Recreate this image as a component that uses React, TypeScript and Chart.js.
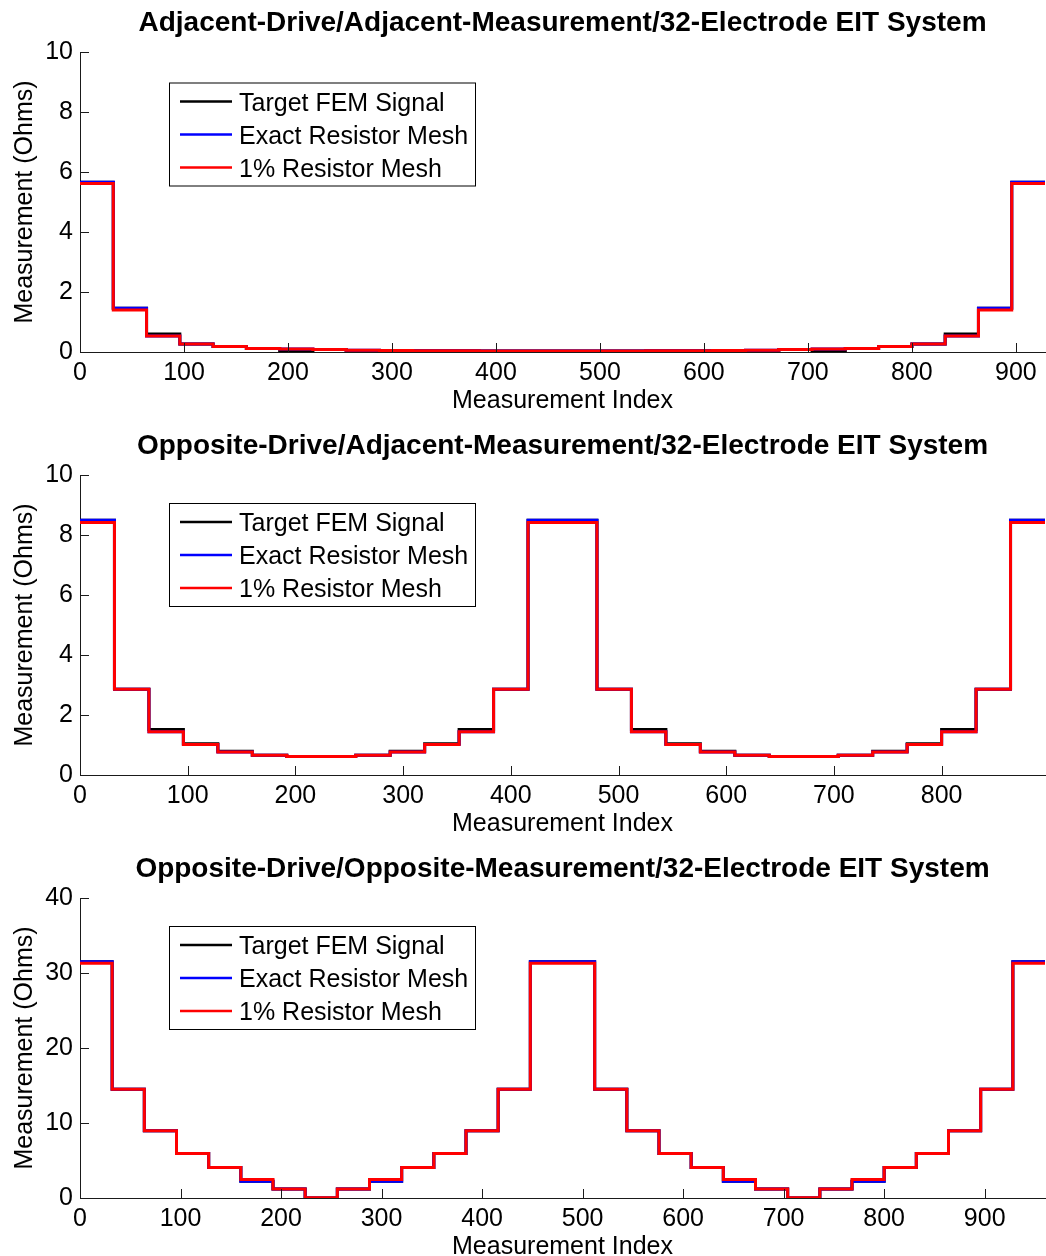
import React, { useEffect, useRef } from "react";
import { Chart, registerables } from "chart.js";

Chart.register(...registerables);

// ---------- data ----------
const GROUP_SIZE = 32; // measurements per drive pattern (one step of the staircase)

const LEGEND_LABELS = ["Target FEM Signal", "Exact Resistor Mesh", "1% Resistor Mesh"];
const X_LABEL = "Measurement Index";
const Y_LABEL = "Measurement (Ohms)";

// Panel 1: Adjacent drive / adjacent measurement (29 groups of 32)
const adjTitle = "Adjacent-Drive/Adjacent-Measurement/32-Electrode EIT System";
const adjTarget = [5.66, 1.46, 0.6, 0.27, 0.18, 0.12, 0.05, 0.08, 0.03, 0.05, 0.045, 0.04, 0.035, 0.035, 0.035, 0.035, 0.035, 0.04, 0.045, 0.05, 0.03, 0.08, 0.05, 0.12, 0.18, 0.27, 0.6, 1.46, 5.66];
const adjExact = [5.66, 1.46, 0.53, 0.27, 0.18, 0.12, 0.1, 0.08, 0.06, 0.05, 0.045, 0.04, 0.035, 0.035, 0.035, 0.035, 0.035, 0.04, 0.045, 0.05, 0.06, 0.08, 0.1, 0.12, 0.18, 0.27, 0.53, 1.46, 5.66];
const adjOnePct = [5.62, 1.4, 0.53, 0.27, 0.18, 0.12, 0.1, 0.08, 0.06, 0.05, 0.045, 0.04, 0.035, 0.035, 0.035, 0.035, 0.035, 0.04, 0.045, 0.05, 0.06, 0.08, 0.1, 0.12, 0.18, 0.27, 0.53, 1.4, 5.62];
const adjXTicks = [0, 100, 200, 300, 400, 500, 600, 700, 800, 900];
const adjYTicks = [0, 2, 4, 6, 8, 10];

// Panel 2: Opposite drive / adjacent measurement (28 groups of 32)
const oppAdjTitle = "Opposite-Drive/Adjacent-Measurement/32-Electrode EIT System";
const oppAdjTarget = [8.49, 2.86, 1.52, 1.04, 0.79, 0.66, 0.62, 0.62, 0.66, 0.79, 1.04, 1.52, 2.86, 8.49, 8.49, 2.86, 1.52, 1.04, 0.79, 0.66, 0.62, 0.62, 0.66, 0.79, 1.04, 1.52, 2.86, 8.49];
const oppAdjExact = [8.49, 2.86, 1.44, 1.02, 0.77, 0.66, 0.62, 0.62, 0.66, 0.77, 1.02, 1.44, 2.86, 8.49, 8.49, 2.86, 1.44, 1.02, 0.77, 0.66, 0.62, 0.62, 0.66, 0.77, 1.02, 1.44, 2.86, 8.49];
const oppAdjOnePct = [8.42, 2.86, 1.44, 1.02, 0.77, 0.66, 0.62, 0.62, 0.66, 0.77, 1.02, 1.44, 2.86, 8.42, 8.42, 2.86, 1.44, 1.02, 0.77, 0.66, 0.62, 0.62, 0.66, 0.77, 1.02, 1.44, 2.86, 8.42];
const oppAdjXTicks = [0, 100, 200, 300, 400, 500, 600, 700, 800];
const oppAdjYTicks = [0, 2, 4, 6, 8, 10];

// Panel 3: Opposite drive / opposite measurement (30 groups of 32)
const oppOppTitle = "Opposite-Drive/Opposite-Measurement/32-Electrode EIT System";
const oppOppTarget = [31.5, 14.5, 8.97, 5.95, 4.08, 2.24, 1.2, 0.0, 1.2, 2.24, 4.08, 5.95, 8.97, 14.5, 31.5, 31.5, 14.5, 8.97, 5.95, 4.08, 2.24, 1.2, 0.0, 1.2, 2.24, 4.08, 5.95, 8.97, 14.5, 31.5];
const oppOppExact = [31.5, 14.5, 8.97, 5.95, 4.08, 2.24, 1.2, 0.0, 1.2, 2.24, 4.08, 5.95, 8.97, 14.5, 31.5, 31.5, 14.5, 8.97, 5.95, 4.08, 2.24, 1.2, 0.0, 1.2, 2.24, 4.08, 5.95, 8.97, 14.5, 31.5];
const oppOppOnePct = [31.3, 14.5, 8.97, 5.95, 4.08, 2.48, 1.2, 0.05, 1.2, 2.48, 4.08, 5.95, 8.97, 14.5, 31.3, 31.3, 14.5, 8.97, 5.95, 4.08, 2.48, 1.2, 0.05, 1.2, 2.48, 4.08, 5.95, 8.97, 14.5, 31.3];
const oppOppXTicks = [0, 100, 200, 300, 400, 500, 600, 700, 800, 900];
const oppOppYTicks = [0, 10, 20, 30, 40];

// ---------- styling ----------
const FONT = "'Liberation Sans', Arial, Helvetica, sans-serif";
const AXIS_COLOR = "#1a1a1a";
const SERIES_COLORS = ["#000000", "#0000ff", "#ff0000"];
const AREA_TOP = 52;
const AREA_HEIGHT = 300;

function toSteps(levels: number[]) {
  const pts = levels.map((y, i) => ({ x: i * GROUP_SIZE, y }));
  pts.push({ x: levels.length * GROUP_SIZE, y: levels[levels.length - 1] });
  return pts;
}

type PanelProps = {
  top: number;
  height: number;
  title: string;
  yMax: number;
  xTicks: number[];
  yTicks: number[];
  series: number[][];
  legendTop: number;
};

function Panel(p: PanelProps) {
  const ref = useRef<HTMLCanvasElement | null>(null);

  useEffect(() => {
    const canvas = ref.current;
    if (!canvas) return;
    const xMax = p.series[0].length * GROUP_SIZE;

    const decor = {
      id: "matlabDecor",
      afterDraw(chart: any) {
        const ctx = chart.ctx as CanvasRenderingContext2D;
        const a = chart.chartArea;
        const xs = chart.scales.x;
        const ys = chart.scales.y;
        ctx.save();
        // inward tick marks
        ctx.strokeStyle = AXIS_COLOR;
        ctx.lineWidth = 1;
        ctx.beginPath();
        for (const v of p.xTicks) {
          const px = Math.round(xs.getPixelForValue(v)) + 0.5;
          ctx.moveTo(px, a.bottom);
          ctx.lineTo(px, a.bottom - 9);
        }
        for (const v of p.yTicks) {
          const py = Math.round(ys.getPixelForValue(v)) + 0.5;
          ctx.moveTo(a.left, py);
          ctx.lineTo(a.left + 9, py);
        }
        ctx.stroke();

        // title
        ctx.fillStyle = "#000";
        ctx.textAlign = "center";
        ctx.textBaseline = "alphabetic";
        ctx.font = `bold 28px ${FONT}`;
        ctx.fillText(p.title, (a.left + a.right) / 2, a.top - 21);

        // x label
        ctx.font = `25px ${FONT}`;
        ctx.fillText(X_LABEL, (a.left + a.right) / 2, a.bottom + 56);

        // y label
        ctx.save();
        ctx.translate(32, (a.top + a.bottom) / 2);
        ctx.rotate(-Math.PI / 2);
        ctx.fillText(Y_LABEL, 0, 0);
        ctx.restore();

        // legend
        const bx = 169.5;
        const by = p.legendTop + 0.5;
        const bw = 306;
        const bh = 103;
        ctx.fillStyle = "#fff";
        ctx.fillRect(bx, by, bw, bh);
        ctx.strokeStyle = "#000";
        ctx.lineWidth = 1;
        ctx.strokeRect(bx, by, bw, bh);
        const rows = [19, 52, 85];
        ctx.textAlign = "left";
        ctx.font = `25px ${FONT}`;
        LEGEND_LABELS.forEach((lab, i) => {
          const ry = p.legendTop + rows[i];
          ctx.strokeStyle = SERIES_COLORS[i];
          ctx.lineWidth = 2.5;
          ctx.beginPath();
          ctx.moveTo(180, ry);
          ctx.lineTo(232, ry);
          ctx.stroke();
          ctx.fillStyle = "#000";
          ctx.fillText(lab, 239, ry + 9);
        });
        ctx.restore();
      },
    };

    const mk = (i: number) => ({
      label: LEGEND_LABELS[i],
      data: toSteps(p.series[i]),
      borderColor: SERIES_COLORS[i],
      backgroundColor: SERIES_COLORS[i],
      borderWidth: 3,
      pointRadius: 0,
      pointHoverRadius: 0,
      stepped: true,
      fill: false,
      tension: 0,
      borderJoinStyle: "miter" as const,
      borderCapStyle: "butt" as const,
      order: 3 - i, // red drawn on top, black at the bottom
    });

    const tickFont = { family: FONT, size: 25 };

    const chart = new Chart(canvas, {
      type: "line",
      data: { datasets: [mk(0), mk(1), mk(2)] as any },
      options: {
        responsive: false,
        animation: false,
        devicePixelRatio: 1,
        events: [],
        layout: { padding: { top: AREA_TOP, left: 0, right: 1, bottom: 0 } },
        plugins: {
          legend: { display: false },
          title: { display: false },
          tooltip: { enabled: false },
        },
        scales: {
          x: {
            type: "linear",
            min: 0,
            max: xMax,
            grid: { display: false, drawTicks: false },
            border: { display: true, color: AXIS_COLOR, width: 1 },
            ticks: { font: tickFont, color: "#000", padding: 6, maxRotation: 0, autoSkip: false },
            afterBuildTicks: (s: any) => {
              s.ticks = p.xTicks.map((v) => ({ value: v }));
            },
            afterFit: (s: any) => {
              s.height = p.height - AREA_TOP - AREA_HEIGHT;
            },
          },
          y: {
            type: "linear",
            min: 0,
            max: p.yMax,
            grid: { display: false, drawTicks: false },
            border: { display: true, color: AXIS_COLOR, width: 1 },
            ticks: { font: tickFont, color: "#000", padding: 7 },
            afterBuildTicks: (s: any) => {
              s.ticks = p.yTicks.map((v) => ({ value: v }));
            },
            afterFit: (s: any) => {
              s.width = 80;
            },
          },
        },
      },
      plugins: [decor],
    });
    return () => chart.destroy();
  }, []);

  return (
    <canvas
      ref={ref}
      width={1046}
      height={p.height}
      style={{ position: "absolute", left: 0, top: p.top, width: 1046, height: p.height, display: "block" }}
    />
  );
}

export default function App() {
  return (
    <div style={{ position: "absolute", left: 0, top: 0, width: 1046, height: 1256, background: "#fff", overflow: "hidden" }}>
      <Panel
        top={0}
        height={423}
        title={adjTitle}
        yMax={10}
        xTicks={adjXTicks}
        yTicks={adjYTicks}
        series={[adjTarget, adjExact, adjOnePct]}
        legendTop={82.5}
      />
      <Panel
        top={423}
        height={423}
        title={oppAdjTitle}
        yMax={10}
        xTicks={oppAdjXTicks}
        yTicks={oppAdjYTicks}
        series={[oppAdjTarget, oppAdjExact, oppAdjOnePct]}
        legendTop={80}
      />
      <Panel
        top={846}
        height={410}
        title={oppOppTitle}
        yMax={40}
        xTicks={oppOppXTicks}
        yTicks={oppOppYTicks}
        series={[oppOppTarget, oppOppExact, oppOppOnePct]}
        legendTop={80}
      />
    </div>
  );
}
